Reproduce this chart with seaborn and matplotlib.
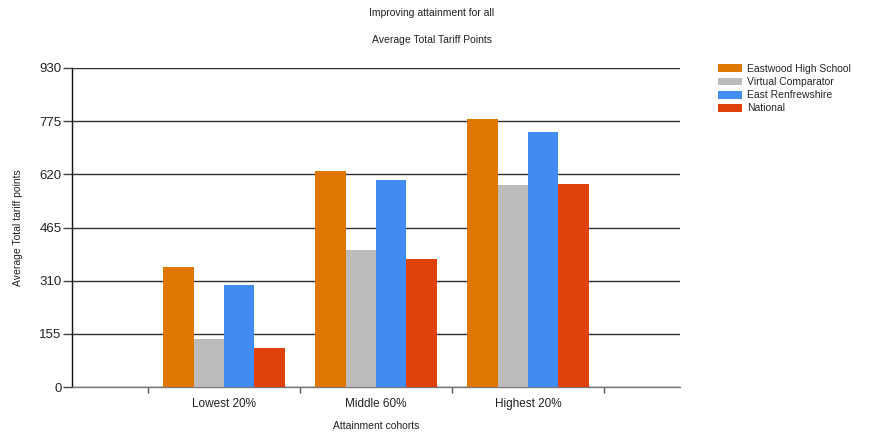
import pandas as pd
import matplotlib.pyplot as plt
import seaborn as sns

# values
cohorts = ['Lowest 20%', 'Middle 60%', 'Highest 20%']
series = ['Eastwood High School', 'Virtual Comparator', 'East Renfrewshire', 'National']
eastwood = [350, 631, 782]
virtual_comp = [141, 399, 590]
east_renf = [298, 603, 744]
national = [114, 372, 593]
yticks = [0, 155, 310, 465, 620, 775, 930]
colors = ['#DD7700', '#BBBBBB', '#418CF0', '#E0400A']

df = pd.DataFrame({
    'Cohort': cohorts * 4,
    'Series': [s for s in series for _ in cohorts],
    'Points': eastwood + virtual_comp + east_renf + national,
})

sns.set_theme(style='white')
plt.rcParams['font.family'] = ['Liberation Sans', 'DejaVu Sans']

fig = plt.figure(figsize=(8.79, 4.46), dpi=100)
ax = fig.add_axes([72 / 879, 1 - 387 / 446, 608 / 879, 319 / 446])

sns.barplot(data=df, x='Cohort', y='Points', hue='Series', order=cohorts,
            hue_order=series, palette=colors, width=0.8, saturation=1,
            edgecolor='none', linewidth=0, ax=ax, zorder=3)

ax.set_xlim(-1, 3)
ax.set_ylim(0, 930)
ax.set_yticks(yticks)
ax.set_yticklabels([str(v) for v in yticks], fontsize=9.5, color='#222222')
ax.set_xticks([0, 1, 2])
ax.set_xticklabels(cohorts, fontsize=8.5, color='#222222')
ax.set_xticks([-0.5, 0.5, 1.5, 2.5], minor=True)
ax.tick_params(axis='x', which='major', length=0, pad=8)
ax.tick_params(axis='x', which='minor', length=4, width=1, color='#555555', direction='out', bottom=True)
ax.tick_params(axis='y', length=6.5, width=1, color='#444444', direction='out', left=True, pad=1)

ax.yaxis.grid(True, color='#303030', linewidth=1)
ax.set_axisbelow(True)
for s in ['top', 'right']:
    ax.spines[s].set_visible(False)
ax.spines['left'].set_color('#111111')
ax.spines['bottom'].set_color('#777777')
ax.spines['left'].set_linewidth(1)
ax.spines['bottom'].set_linewidth(1)

ax.set_xlabel('Attainment cohorts', fontsize=7.5, color='#222222', labelpad=8)
ax.set_ylabel('Average Total tariff points', fontsize=7.5, color='#222222')
ax.yaxis.set_label_coords((23 - 72) / 608, 0.5)

fig.text(432 / 879, 1 - 13 / 446, 'Improving attainment for all', ha='center', va='center',
         fontsize=7.5, color='#222222')
fig.text(432 / 879, 1 - 40 / 446, 'Average Total Tariff Points', ha='center', va='center',
         fontsize=7.5, color='#222222')

ax.legend_.remove()
handles, labels = ax.get_legend_handles_labels()
fig.legend(handles, labels, loc='upper left', bbox_to_anchor=(718 / 879, 1 - 64 / 446),
           frameon=False, fontsize=7.5, handlelength=2.3, handleheight=0.8,
           handletextpad=0.45, labelspacing=0.3, borderpad=0, borderaxespad=0)

fig.savefig('out.png', dpi=100)
